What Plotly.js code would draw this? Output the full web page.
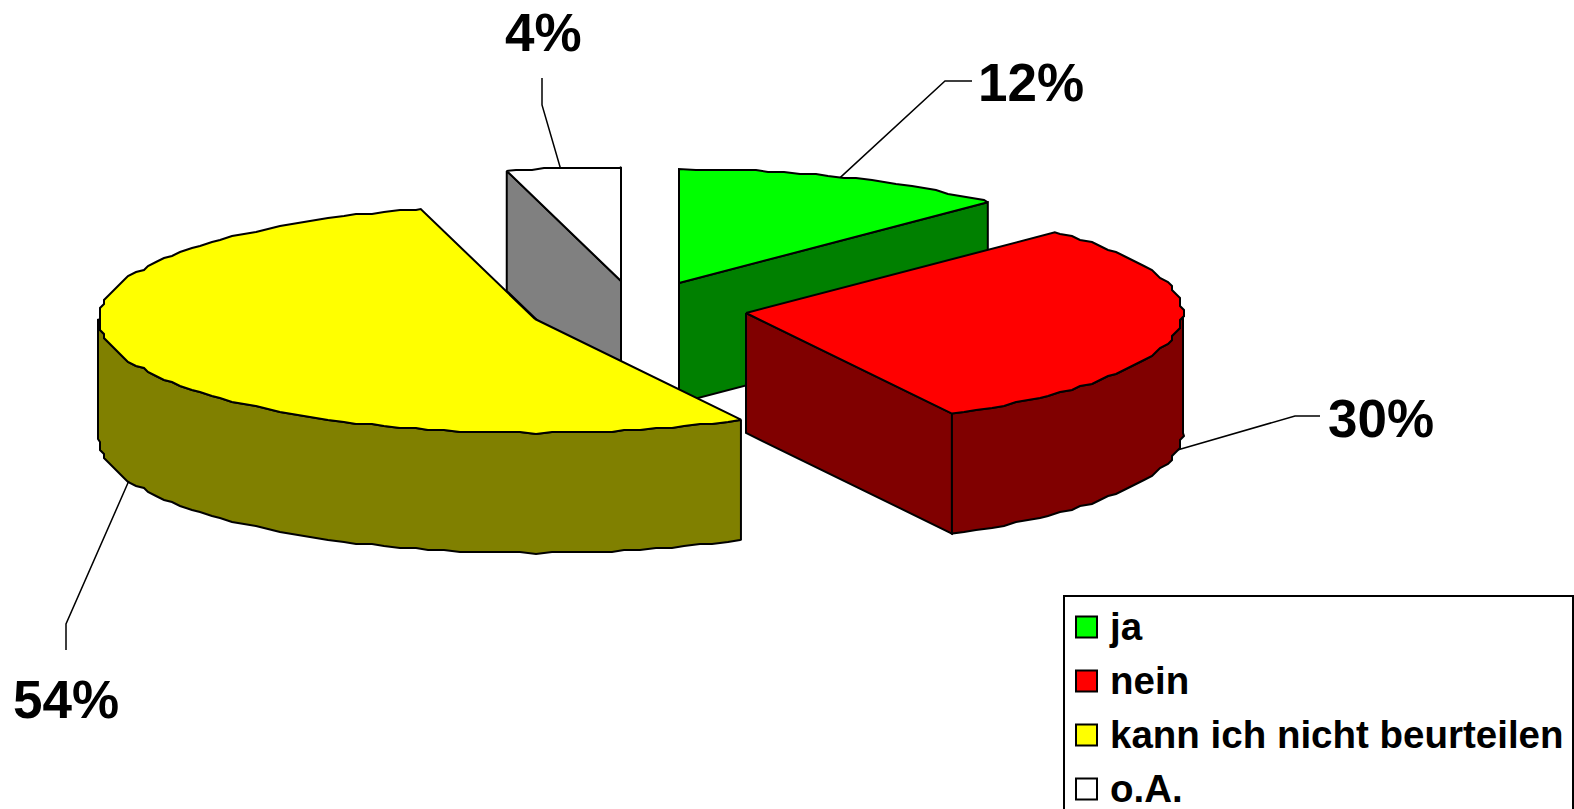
<!DOCTYPE html>
<html>
<head>
<meta charset="utf-8">
<script src="https://cdn.plot.ly/plotly-3.0.1.min.js"></script>
<style>html,body{margin:0;padding:0;background:#fff;overflow:hidden}#chart{width:1574px;height:809px}</style>
</head>
<body>
<div id="chart"></div>
<script>
// Data: shares estimated from the slice edges; the printed labels are these, rounded
const categories = ["ja", "nein", "kann ich nicht beurteilen", "o.A."];
const shares = [12.49, 29.7, 53.6, 4.21];
const topColors = ["#00ff00", "#ff0000", "#ffff00", "#ffffff"];
const sideColors = ["#008000", "#800000", "#808000", "#808080"];

// Drawing geometry of the tilted, exploded pie (pixels)
const W = 1574, H = 809;
const rx = 437, ry = 114, depth = 120;
const apexes = [[679, 283], [746, 313], [535, 319], [621, 281]];
const labelPos = [[1031, 82], [1381, 418], [66, 699], [543, 32]];
const leaderBends = [
  [[945, 81], [972, 81]],
  [[1295, 416], [1320, 416]],
  [[66, 624], [66, 650]],
  [[542, 105], [542, 78]]
];
const leaderShift = [-6, 0, 0, -3];
const lineCol = "#000000", lineW = 2;

// Slice angles from the shares (clockwise from 12 o'clock, degrees)
const starts = [];
shares.reduce((acc, v, i) => { starts[i] = acc; return acc + v * 3.6; }, 0);
const ends = shares.map((v, i) => starts[i] + v * 3.6);
const rad = d => d * Math.PI / 180;
const onEllipse = (c, deg, dz) => [c[0] + rx * Math.sin(rad(deg)), c[1] - ry * Math.cos(rad(deg)) + (dz || 0)];

// Slightly stepped rim, like the low-resolution polyline of the source picture.
// Samples sit on fixed angles so that walls and top faces share the same rim.
const stepDeg = 2, gridX = 4, gridY = 2;
function arc(c, a0, a1, dz) {
  const lo = Math.min(a0, a1), hi = Math.max(a0, a1);
  const pts = [onEllipse(c, lo, dz)];
  for (let k = Math.floor(lo / stepDeg) + 1; k * stepDeg < hi; k++) {
    const p = onEllipse(c, k * stepDeg, dz);
    pts.push([Math.round(p[0] / gridX) * gridX, Math.round(p[1] / gridY) * gridY]);
  }
  pts.push(onEllipse(c, hi, dz));
  return a0 <= a1 ? pts : pts.reverse();
}
function poly(pts, fill, name) {
  const closed = pts.concat([pts[0]]);
  return {
    type: "scatter", mode: "lines", name: name, showlegend: false, hoverinfo: "skip",
    x: closed.map(p => p[0]), y: closed.map(p => p[1]),
    fill: "toself", fillcolor: fill,
    line: { color: lineCol, width: lineW, shape: "linear", simplify: false }
  };
}

const traces = [];
function topFace(i) {
  const c = apexes[i];
  traces.push(poly([c].concat(arc(c, starts[i], ends[i], 0)), topColors[i], categories[i]));
}
function cutFace(i, deg) {
  const c = apexes[i], e = onEllipse(c, deg, 0);
  traces.push(poly([c, e, [e[0], e[1] + depth], [c[0], c[1] + depth]], sideColors[i], categories[i]));
}
function rimWall(i, a0, a1) {
  const c = apexes[i];
  traces.push(poly(arc(c, a0, a1, 0).concat(arc(c, a1, a0, depth)), sideColors[i], categories[i]));
}

// Painter's order, back to front
cutFace(3, starts[3]); topFace(3);
cutFace(0, ends[0]);   topFace(0);
cutFace(1, ends[1]);   rimWall(1, 90, ends[1]); topFace(1);
rimWall(2, starts[2], 270); topFace(2);

// Leader lines start on the rim at each slice's mid angle
const mids = starts.map((s, i) => (s + ends[i]) / 2);
const leaderDepth = [0, depth, depth, 0];
mids.forEach((m, i) => {
  const s = onEllipse(apexes[i], m, leaderDepth[i]);
  s[0] += leaderShift[i];
  const path = [s].concat(leaderBends[i]);
  traces.push({
    type: "scatter", mode: "lines", showlegend: false, hoverinfo: "skip",
    x: path.map(p => p[0]), y: path.map(p => p[1]),
    line: { color: lineCol, width: 1.5 }
  });
});

// Legend
const legendSwatchX = 1086.5, legendTextX = 1110;
const legendRows = [627, 681, 735, 789];
const legendFont = { family: "Liberation Sans, Arial, sans-serif", size: 38.5, color: "#000", weight: 700 };
traces.push({
  type: "scatter", mode: "markers", showlegend: false, hoverinfo: "skip",
  x: categories.map(() => legendSwatchX), y: legendRows,
  marker: { symbol: "square", size: 21, color: topColors, line: { color: "#000", width: 2 } }
});
traces.push({
  type: "scatter", mode: "text", showlegend: false, hoverinfo: "skip",
  x: categories.map(() => legendTextX), y: legendRows.map(v => v + 3),
  text: categories, textposition: "middle right", textfont: legendFont, cliponaxis: false
});

const layout = {
  width: W, height: H,
  margin: { l: 0, r: 0, t: 0, b: 0 },
  paper_bgcolor: "#ffffff", plot_bgcolor: "#ffffff",
  showlegend: false,
  xaxis: { range: [0, W], visible: false, fixedrange: true },
  yaxis: { range: [H, 0], visible: false, fixedrange: true },
  shapes: [{
    type: "rect", layer: "below", xref: "x", yref: "y",
    x0: 1064, x1: 1573, y0: 596, y1: 830,
    line: { color: "#000", width: 2 }, fillcolor: "#fff"
  }],
  annotations: shares.map((v, i) => ({
    xref: "x", yref: "y", x: labelPos[i][0], y: labelPos[i][1],
    text: Math.round(v) + "%", showarrow: false, xanchor: "center", yanchor: "middle",
    font: { family: "Liberation Sans, Arial, sans-serif", size: 53, color: "#000", weight: 700 }
  }))
};
Plotly.newPlot("chart", traces, layout, { displayModeBar: false, staticPlot: true });
</script>
</body>
</html>
